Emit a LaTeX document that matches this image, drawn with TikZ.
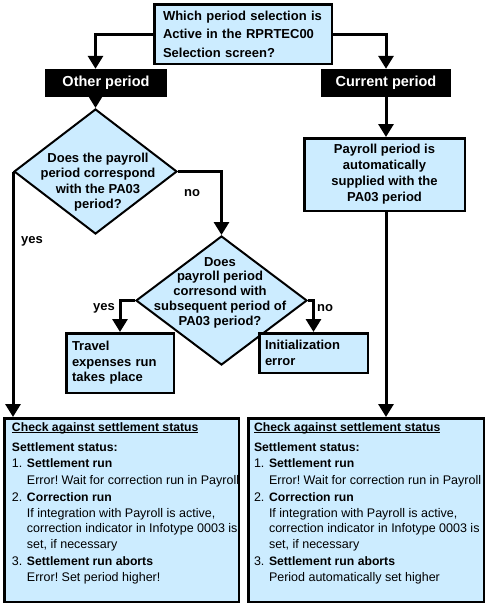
\documentclass[tikz,border=0pt]{standalone}
\usepackage{fontspec}
\setmainfont{Liberation Sans}
\usetikzlibrary{arrows.meta,shapes.geometric,calc}
\definecolor{lblue}{RGB}{204,236,255}
\frenchspacing
\newcommand\ulbase[1]{\leavevmode\setbox0\hbox{#1}\rlap{\rule[-1.6pt]{\wd0}{1pt}}\box0}
\newcommand\rg{\fontsize{12.5}{15.5}\selectfont\mdseries}
\newcommand\bd{\fontsize{12.2}{15.5}\selectfont\bfseries}
\newcommand\ind[1]{\leavevmode\hspace*{15pt}\mbox{\rg #1}}
\newcommand\itm[2]{\leavevmode\mbox{\rg\makebox[15pt][l]{#1}\bd #2}}
\begin{document}
\begin{tikzpicture}[x=1pt,y=-1pt,
 box/.style={draw=black,fill=lblue,line width=2.5pt,inner sep=0pt},
 dia/.style={diamond,draw=black,fill=lblue,line width=2pt,inner sep=0pt},
 tag/.style={fill=black,text=white,font=\fontsize{14.5}{16}\selectfont\bfseries,inner sep=0pt},
 conn/.style={line width=3pt,-{Triangle[width=15pt,length=13pt]}},
 lab/.style={font=\fontsize{13}{15}\selectfont\bfseries,inner sep=0pt},
 btxt/.style={font=\fontsize{13}{15.5}\selectfont\bfseries,inner sep=0pt}
]
\useasboundingbox[fill=white] (0,0) rectangle (486,608);

% boxes
\node[box,minimum width=177.5pt,minimum height=59.5pt,text width=160pt,align=left,
      font=\fontsize{13}{18.5}\selectfont\bfseries] (top) at (243,34)
  {Which period selection is\\Active in the RPRTEC00\\Selection screen?};
\node[tag,minimum width=122pt,minimum height=28pt] (other) at (106,83) {Other period};
\node[tag,minimum width=130pt,minimum height=28pt] (current) at (386,83) {Current period};

\node[dia,minimum width=163pt,minimum height=125pt] (d1) at (95.5,171.5) {};
\node[btxt,align=center,font=\fontsize{13}{15.3}\selectfont\bfseries] (d1t) at (98,182)
  {Does the payroll\\period correspond\\with the PA03\\period?};

\node[dia,minimum width=171pt,minimum height=129pt] (d2) at (221.5,300.5) {};
\node[btxt,align=center,font=\fontsize{13}{14.8}\selectfont\bfseries] (d2t) at (220,292.5)
  {Does\\payroll period\\corresond with\\subsequent period of\\PA03 period?};

\node[box,minimum width=160.5pt,minimum height=72.5pt,btxt,align=center,
      font=\fontsize{13}{16}\selectfont\bfseries] (pay) at (384.5,174.5)
  {Payroll period is\\automatically\\supplied with the\\PA03 period};

\node[box,minimum width=107.5pt,minimum height=59.5pt,text width=96pt,align=left,btxt] (travel) at (120,363)
  {Travel\\expenses run\\takes place};
\node[box,minimum width=108.5pt,minimum height=39.5pt,text width=97pt,align=left,btxt] (init) at (313.5,353)
  {Initialization\\error};

% bottom boxes
\node[box,minimum width=234.5pt,minimum height=183.5pt] (lbox) at (121.5,510)
 {\begin{minipage}[c][183.5pt][t]{226pt}\fontsize{12.5}{15.5}\selectfont
  \raggedright\leftskip=3.5pt
  \vspace*{4.8pt}
  {\bd\ulbase{Check against settlement status}}\\[4.5pt]
  {\bd Settlement status:}\\
  \itm{1.}{Settlement run}\\[1.5pt]
  \ind{Error! Wait for correction run in Payroll}\\[1.5pt]
  \itm{2.}{Correction run}\\[0.5pt]
  \ind{If integration with Payroll is active,}\\
  \ind{correction indicator in Infotype 0003 is}\\
  \ind{set, if necessary}\\[1.5pt]
  \itm{3.}{Settlement run aborts}\\[0.5pt]
  \ind{Error! Set period higher!}\par
 \end{minipage}};
\node[box,minimum width=235.5pt,minimum height=183.5pt] (rbox) at (366,510)
 {\begin{minipage}[c][183.5pt][t]{226pt}\fontsize{12.5}{15.5}\selectfont
  \raggedright\leftskip=1pt
  \vspace*{4.8pt}
  {\bd\ulbase{Check against settlement status}}\\[4.5pt]
  {\bd Settlement status:}\\
  \itm{1.}{Settlement run}\\[1.5pt]
  \ind{Error! Wait for correction run in Payroll}\\[1.5pt]
  \itm{2.}{Correction run}\\[0.5pt]
  \ind{If integration with Payroll is active,}\\
  \ind{correction indicator in Infotype 0003 is}\\
  \ind{set, if necessary}\\[1.5pt]
  \itm{3.}{Settlement run aborts}\\[0.5pt]
  \ind{Period automatically set higher}\par
 \end{minipage}};

% connectors
\draw[conn] (top.west) -| (d1.north |- other.north);
\draw[conn] (d1.north |- other.south) -- (d1.north);
\draw[conn] (top.east) -| (current.north);
\draw[conn] (current.south) -- (current.south |- pay.north);
\draw[conn] (d1.east) -| (d2.north);
\draw[conn] (d1.west) -- (d1.west |- lbox.north);
\draw[conn] (d2.west) -| (travel.north);
\draw[conn] (d2.east) -| (init.north);
\draw[conn] (pay.south -| current.south) -- (current.south |- rbox.north);

% labels
\node[lab] (lno1) at (192,193) {no};
\node[lab] (lyes1) at (32,241) {yes};
\node[lab] (lyes2) at (104,308) {yes};
\node[lab] (lno2) at (325,308) {no};
\end{tikzpicture}
\end{document}
